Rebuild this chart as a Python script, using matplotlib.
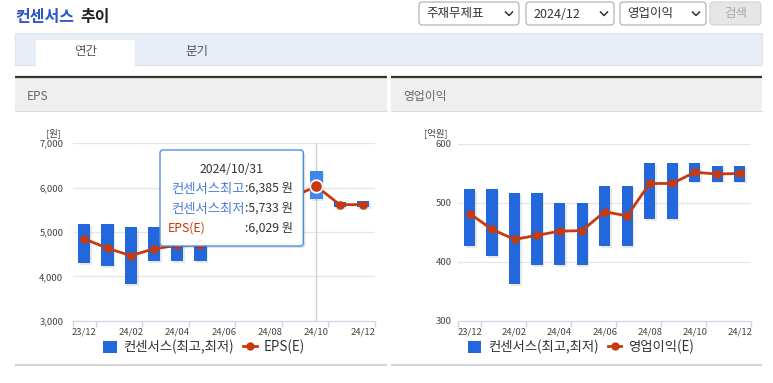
import matplotlib.pyplot as plt
import matplotlib.patheffects as pe
from matplotlib.patches import Rectangle, FancyBboxPatch, Patch
from matplotlib.lines import Line2D
import numpy as np

plt.rcParams['font.family'] = ['Noto Sans CJK KR', 'DejaVu Sans']

# data
months = ['23/12', '24/01', '24/02', '24/03', '24/04', '24/05', '24/06',
          '24/07', '24/08', '24/09', '24/10', '24/11', '24/12']
eps_high = [5170, 5170, 5110, 5110, 5000, 5000, 5400, 5400, 5950, 5950, 6385, 5680, 5690]
eps_low = [4293, 4233, 3825, 4338, 4338, 4338, 4720, 4720, 5030, 5030, 5733, 5560, 5560]
eps_est = [4846, 4633, 4467, 4620, 4700, 4710, 5080, 5010, 5590, 5800, 6029, 5617, 5617]
oi_high = [523, 523, 517, 517, 499, 499, 528, 528, 568, 568, 568, 562, 562]
oi_low = [426, 409, 362, 394, 394, 394, 426, 426, 472, 472, 536, 536, 536]
oi_est = [482, 455, 438, 445, 452, 453, 485, 478, 533, 533, 552, 549, 550]
hover = 10  # 2024/10/31

W, H = 773, 383
BLUE = '#2268dc'
RED = '#c73a10'
AXIS = '#ccd6eb'

fig = plt.figure(figsize=(W / 100, H / 100), dpi=100)

# page background (pixel coords)
bg = fig.add_axes([0, 0, 1, 1], zorder=0)
bg.set_xlim(0, W)
bg.set_ylim(H, 0)
bg.axis('off')

bg.text(15, 17, '컨센서스', color='#2a56c6', fontsize=11.5, fontweight='bold', va='center')
bg.text(80, 17, '추이', color='#222222', fontsize=11.5, fontweight='bold', va='center')

def dropdown(x0, x1, label):
    bg.add_patch(FancyBboxPatch((x0, 2), x1 - x0, 23, boxstyle='round,pad=0,rounding_size=3',
                                fc='white', ec='#aaaaaa', lw=0.8))
    bg.text(x0 + 7, 14, label, fontsize=9, color='#333333', va='center')
    cx = x1 - 10
    bg.plot([cx - 3.5, cx, cx + 3.5], [12, 15.5, 12], color='#333333', lw=1.1)

dropdown(419, 519, '주재무제표')
dropdown(526, 614, '2024/12')
dropdown(620, 706, '영업이익')
bg.add_patch(FancyBboxPatch((710, 2), 51, 23, boxstyle='round,pad=0,rounding_size=3',
                            fc='#e6e6e6', ec='#d3d3d3', lw=0.8))
bg.text(736, 14, '검색', fontsize=9, color='#aaaaaa', va='center', ha='center')

# tab bar
bg.add_patch(Rectangle((15, 32.5), 747, 32, fc='#e8eef8', ec='#dce4f2', lw=0.8))
bg.add_patch(Rectangle((36, 40), 99, 25.5, fc='white', ec='none'))
bg.text(86, 52, '연간', fontsize=9, color='#555555', va='center', ha='center')
bg.text(197, 52, '분기', fontsize=9, color='#555555', va='center', ha='center')

# panel frames
for x0, x1, name in [(15, 387, 'EPS'), (391, 762, '영업이익')]:
    bg.add_patch(Rectangle((x0, 77.5), x1 - x0, 33, fc='#efefef', ec='none'))
    bg.plot([x0, x1], [76.5, 76.5], color='#333333', lw=1.6, solid_capstyle='butt')
    bg.plot([x0, x1], [110.5, 110.5], color='#dddddd', lw=0.8)
    bg.plot([x0, x1], [365, 365], color='#d5d5d5', lw=1.6, solid_capstyle='butt')
    bg.text(x0 + 12, 96.5, name, fontsize=8.5, color='#666666', va='center')


def px_axes(x0, y0, x1, y1):
    a = fig.add_axes([x0 / W, 1 - y1 / H, (x1 - x0) / W, (y1 - y0) / H], zorder=1)
    a.patch.set_alpha(0)
    return a


def draw_chart(ax, high, low, est, ylim, yticks, fmt, bar_w, ypad, crosshair=None):
    x = np.arange(len(months))
    high = np.array(high)
    low = np.array(low)
    colors = [BLUE] * len(x)
    if crosshair is not None:
        ax.axvline(crosshair, color='#cccccc', lw=0.9, zorder=1)
        colors[crosshair] = '#3f86ee'
    bars = ax.bar(x, high - low, bottom=low, width=bar_w, color=colors, zorder=2)
    for b in bars:
        b.set_path_effects([pe.SimplePatchShadow(offset=(1.2, -1.2), shadow_rgbFace='black', alpha=0.09),
                            pe.Normal()])
    ax.plot(x, est, color=RED, lw=2, marker='o', ms=5.2, zorder=3)
    if crosshair is not None:
        ax.plot([x[crosshair]], [est[crosshair]], marker='o', ms=9, color=RED,
                mec='white', mew=1.3, zorder=4)
    ax.set_xlim(-0.5, len(x) - 0.5)
    ax.set_ylim(*ylim)
    ax.set_yticks(yticks)
    ax.set_yticklabels([fmt.format(v) for v in yticks])
    ax.set_xticks(x[::2])
    ax.set_xticklabels(months[::2])
    ax.set_xticks(np.r_[-0.5, np.arange(0.5, len(x), 2)], minor=True)
    ax.tick_params(axis='x', which='major', length=0, labelsize=6.8, labelcolor='#444444', pad=5)
    ax.tick_params(axis='x', which='minor', length=4, color=AXIS, width=1)
    ax.tick_params(axis='y', length=0, labelsize=6.8, labelcolor='#444444', pad=ypad)
    for s in ['top', 'right', 'left']:
        ax.spines[s].set_visible(False)
    ax.spines['bottom'].set_color(AXIS)
    ax.yaxis.grid(True, color='#e6e6e6', lw=0.9)
    ax.set_axisbelow(True)


ax1 = px_axes(72.7, 143.3, 374.5, 320.7)
draw_chart(ax1, eps_high, eps_low, eps_est, (3000, 7000), [3000, 4000, 5000, 6000, 7000],
           '{:,}', 0.53, 6.8, crosshair=hover)
ax2 = px_axes(458.3, 144, 751, 320.7)
draw_chart(ax2, oi_high, oi_low, oi_est, (300, 600), [300, 400, 500, 600],
           '{}', 0.5, 4.8)

bg.text(53, 133, '[원]', fontsize=6.8, color='#444444', ha='center', va='center')
bg.text(436, 133, '[억원]', fontsize=6.8, color='#444444', ha='center', va='center')

# legends
for cx, name in [(204, 'EPS(E)'), (581, '영업이익(E)')]:
    handles = [Patch(fc=BLUE, ec='none'),
               Line2D([], [], color=RED, lw=2, marker='o', ms=5)]
    fig.legend(handles, ['컨센서스(최고,최저)', name], loc='center',
               bbox_to_anchor=(cx / W, 1 - 347 / H), ncol=2, frameon=False,
               fontsize=9.6, handlelength=1.0, handleheight=1.0, handletextpad=0.5,
               columnspacing=0.7, labelcolor='#333333')

# tooltip overlay
ov = fig.add_axes([0, 0, 1, 1], zorder=5)
ov.set_xlim(0, W)
ov.set_ylim(H, 0)
ov.axis('off')
tip = FancyBboxPatch((160, 150), 143.3, 96, boxstyle='round,pad=0,rounding_size=3',
                     fc='white', ec='#4f8fe3', lw=1)
tip.set_path_effects([pe.SimplePatchShadow(offset=(1.5, -1.5), shadow_rgbFace='black', alpha=0.12),
                      pe.Normal()])
ov.add_patch(tip)
ov.text(231.5, 169.5, '2024/10/31', fontsize=8.8, color='#333333', ha='center', va='center')
rows = [('컨센서스최고', '#4a7fd8', eps_high[hover]),
        ('컨센서스최저', '#4a7fd8', eps_low[hover]),
        ('EPS(E)', '#cc3300', eps_est[hover])]
for i, (lab, col, val) in enumerate(rows):
    y = 188.5 + 20 * i
    if i < 2:
        ov.text(245, y, lab, fontsize=9.6, color=col, va='center', ha='right')
    else:
        ov.text(168, y, lab, fontsize=8.8, color=col, va='center')
    ov.text(245, y, ':{:,} 원'.format(val), fontsize=8.8, color='#333333', va='center')

fig.savefig('out.png', dpi=100)
